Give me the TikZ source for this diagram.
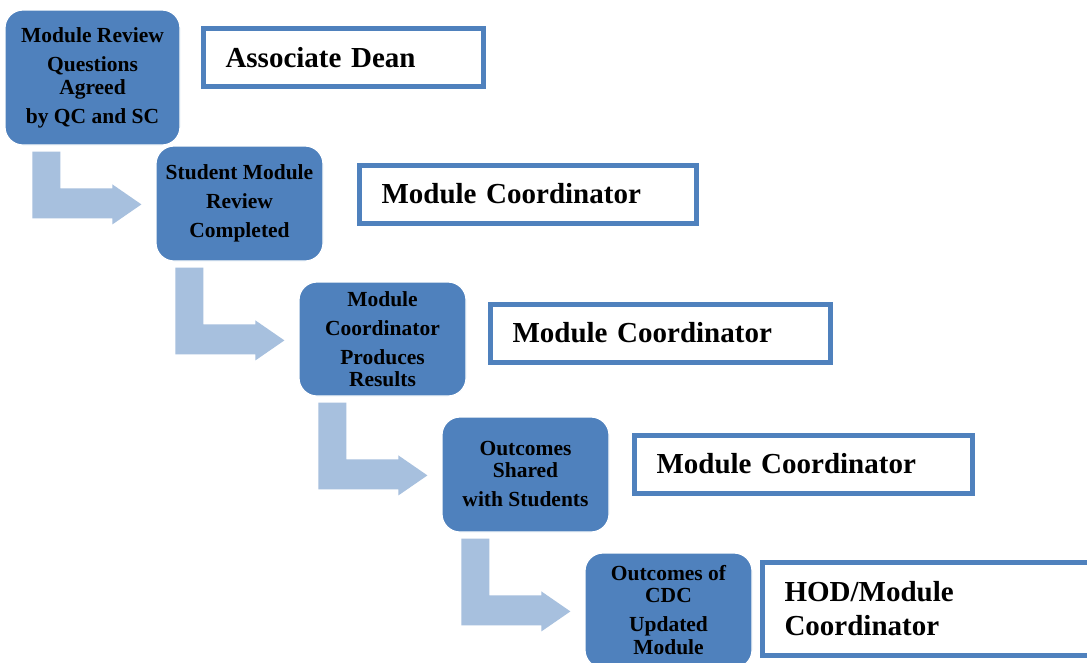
\documentclass[tikz,border=0pt]{standalone}
\usepackage{fontspec}
\setmainfont{Liberation Serif}
\usetikzlibrary{calc}
\definecolor{boxblue}{RGB}{79,129,189}
\definecolor{arrowblue}{RGB}{167,192,222}
\newcommand{\bentarrow}[3]{%
  \coordinate (vl) at ($(#1.south west)+(#3,6)$);
  \coordinate (vr) at ($(vl)+(28,0)$);
  \coordinate (hb) at ($(#2.north west)+(-43,43)$);
  \coordinate (hbb) at ($(hb)+(0,30)$);
  \coordinate (tip) at ($(#2.north west)+(-14,59)$);
  \fill[arrowblue] (vl) -- (vr) -- (vr |- hb) -- (hb) -- ($(hb)+(0,-4)$) -- (tip)
    -- ($(hbb)+(0,6)$) -- (hbb) -- (vl |- hbb) -- cycle;
}
\begin{document}
\begin{tikzpicture}[x=1pt,y=-1pt,
  stepbox/.style={fill=boxblue, draw=white, line width=1.2pt, rounded corners=18pt,
    minimum width=167pt, minimum height=115pt, inner sep=0pt, align=center,
    font=\fontsize{21.5}{29}\selectfont\bfseries},
  rolebox/.style={draw=boxblue, line width=5pt, fill=white, inner xsep=22pt, inner ysep=0pt,
    minimum height=58pt, align=left, font=\fontsize{29}{34}\selectfont\bfseries}]
\clip (0,0) rectangle (1087,662);
\fill[white] (0,0) rectangle (1087,662);

\node[stepbox, minimum width=175pt, minimum height=135pt] (b1) at (92.5,77.5)
  {Module Review\\Questions\\[-6pt]Agreed\\by QC and SC};
\node[stepbox] (b2) at (239.5,203.5) {Student Module\\Review\\Completed};
\node[stepbox, minimum height=114pt] (b3) at (382.5,339)
  {Module\\Coordinator\\Produces\\[-7pt]Results};
\node[stepbox] (b4) at (525.5,474.5) {Outcomes\\[-7pt]Shared\\with Students};
\node[stepbox] (b5) at (668.5,610.5) {Outcomes of\\[-7pt]CDC\\Updated\\[-6pt]Module};

\bentarrow{b1}{b2}{28}
\bentarrow{b2}{b3}{20}
\bentarrow{b3}{b4}{20}
\bentarrow{b4}{b5}{20}

\node[rolebox, minimum width=280pt, text width=236pt] (r1) at (343.5,57.5) {Associate Dean};
\node[rolebox, minimum width=337pt, text width=293pt] (r2) at (528,194) {Module Coordinator};
\node[rolebox, minimum width=340pt, text width=296pt] (r3) at (660.5,333) {Module Coordinator};
\node[rolebox, minimum width=338pt, text width=294pt] (r4) at (803.5,464) {Module Coordinator};
\node[rolebox, minimum width=340pt, text width=296pt, minimum height=93pt] (r5) at (932.5,609)
  {HOD/Module\\Coordinator};
\end{tikzpicture}
\end{document}
